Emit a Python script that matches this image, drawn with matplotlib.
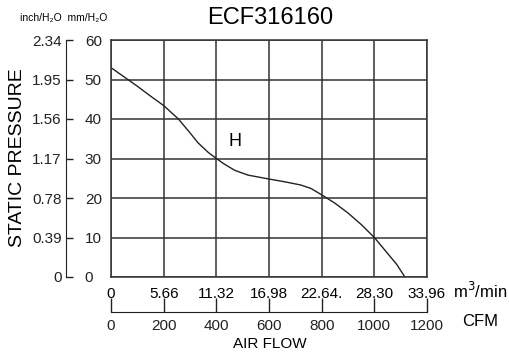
import matplotlib
matplotlib.use('Agg')
import matplotlib.pyplot as plt

plt.rcParams['font.family'] = ['Liberation Sans', 'DejaVu Sans']

# data
cfm = [0, 100, 150, 200, 256, 300, 330, 370, 400, 430, 470, 520, 600, 660, 720, 760,
       800, 850, 900, 950, 1000, 1050, 1085, 1116]
pressure_mm = [53.0, 48.3, 45.8, 43.4, 40.0, 36.5, 34.0, 31.5, 30.0, 28.6, 27.0, 25.8,
               24.8, 24.1, 23.3, 22.4, 20.8, 18.7, 16.2, 13.3, 10.0, 6.0, 3.2, 0.0]

cfm_ticks = [0, 200, 400, 600, 800, 1000, 1200]
m3min_labels = ['0', '5.66', '11.32', '16.98', '22.64.', '28.30', '33.96']
mm_ticks = [0, 10, 20, 30, 40, 50, 60]
inch_labels = ['0', '0.39', '0.78', '1.17', '1.56', '1.95', '2.34']

W, H = 510, 356
fig = plt.figure(figsize=(W / 100, H / 100), dpi=100)

x0, x1 = 111 / W, 427 / W
y_top, y_bot = 1 - 40 / H, 1 - 277 / H
ax = fig.add_axes([x0, y_bot, x1 - x0, y_top - y_bot])
ax.plot(cfm, pressure_mm, color='#222222', lw=1.0)
ax.set_xlim(0, 1200)
ax.set_ylim(0, 60)
ax.set_xticks(cfm_ticks)
ax.set_xticklabels(m3min_labels)
ax.set_yticks(mm_ticks)
ax.grid(True, color='#333333', lw=1.1)
ax.tick_params(length=0, labelleft=False, labelsize=11, pad=7)
for s in ax.spines.values():
    s.set_color('#333333')
    s.set_linewidth(1.1)
ax.text(471, 34.2, 'H', fontsize=13, ha='center', va='center')
fig.text(453 / W, 1 - 291 / H, 'm$^3$/min', fontsize=12, va='center', ha='left')

# pressure scale on the left
sx = 66 / W
sc = fig.add_axes([sx, y_bot, 0.0001, y_top - y_bot])
sc.set_ylim(0, 60)
sc.set_xticks([])
sc.set_yticks(mm_ticks)
sc.set_yticklabels(inch_labels)
sc.tick_params(axis='y', direction='in', length=5, width=1, labelsize=11, pad=3, colors='#222222')
for k in ['top', 'bottom', 'right']:
    sc.spines[k].set_visible(False)
sc.spines['left'].set_color('#222222')
tw = sc.twinx()
tw.set_ylim(0, 60)
tw.set_yticks(mm_ticks)
tw.tick_params(axis='y', right=False, labelright=True, labelsize=11, pad=10, colors='#222222')
for s in tw.spines.values():
    s.set_visible(False)

# CFM scale at the bottom
cy = 1 - 312 / H
cf = fig.add_axes([x0, cy, x1 - x0, 0.0001])
cf.set_xlim(0, 1200)
cf.set_yticks([])
cf.set_xticks(cfm_ticks)
cf.tick_params(axis='x', direction='in', length=10, width=1, labelsize=11, pad=5, colors='#222222')
for k in ['top', 'left', 'right']:
    cf.spines[k].set_visible(False)
cf.spines['bottom'].set_color('#222222')

fig.text(480 / W, 1 - 322 / H, 'CFM', fontsize=12, ha='center', va='center')
fig.text(270 / W, 1 - 344 / H, 'AIR FLOW', fontsize=11, ha='center', va='center')
fig.text(270 / W, 1 - 18 / H, 'ECF316160', fontsize=17, ha='center', va='center')
fig.text(20 / W, 1 - 18 / H, 'inch/H\u2082O  mm/H\u2082O', fontsize=7.5, ha='left', va='center')
fig.text(18 / W, 1 - 158 / H, 'STATIC PRESSURE', fontsize=14, rotation=90, ha='center', va='center')

fig.savefig('out.png', dpi=100)
